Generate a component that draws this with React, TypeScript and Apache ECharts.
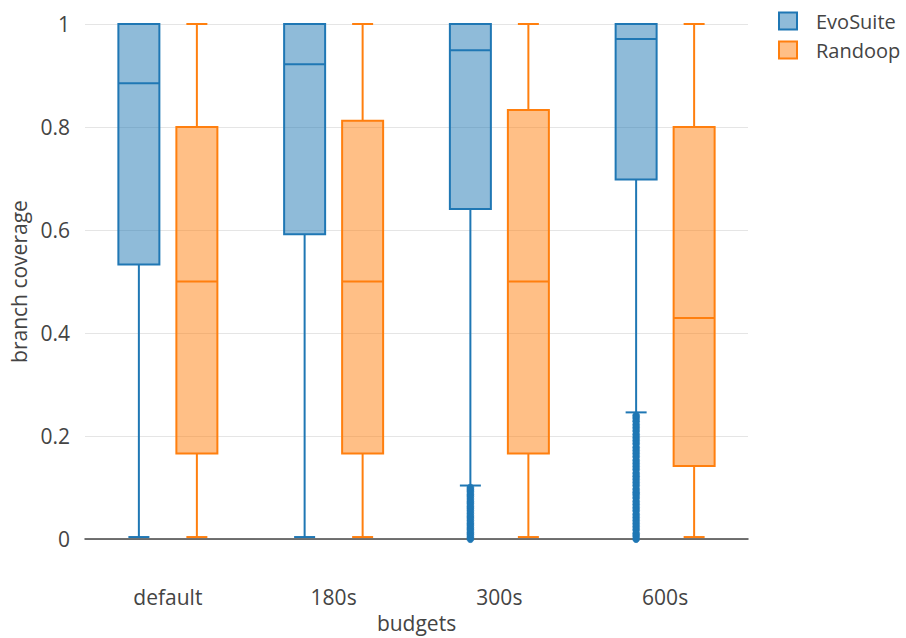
import React, { useEffect, useRef } from "react";
import * as echarts from "echarts";

const categories = ["default", "180s", "300s", "600s"];
// [min, q1, median, q3, max]
const evoSuiteBoxes = [
  [0.004, 0.533, 0.885, 1, 1],
  [0.004, 0.592, 0.922, 1, 1],
  [0.104, 0.641, 0.949, 1, 1],
  [0.246, 0.698, 0.971, 1, 1],
];
const randoopBoxes = [
  [0.004, 0.166, 0.5, 0.8, 1],
  [0.004, 0.166, 0.5, 0.812, 1],
  [0.004, 0.166, 0.5, 0.833, 1],
  [0.004, 0.142, 0.429, 0.8, 1],
];
const evoSuiteOutliers300 = [
  0, 0.004, 0.009, 0.013, 0.018, 0.022, 0.027, 0.031, 0.036, 0.041, 0.045, 0.05,
  0.055, 0.06, 0.064, 0.069, 0.073, 0.078, 0.083, 0.087, 0.092, 0.096, 0.1,
];
const evoSuiteOutliers600 = [
  0, 0.006, 0.011, 0.018, 0.024, 0.03, 0.036, 0.042, 0.048, 0.055, 0.061, 0.067,
  0.073, 0.08, 0.086, 0.091, 0.097, 0.104, 0.11, 0.116, 0.122, 0.128, 0.135,
  0.141, 0.147, 0.153, 0.16, 0.166, 0.172, 0.178, 0.185, 0.191, 0.197, 0.203,
  0.21, 0.216, 0.222, 0.229, 0.235, 0.24,
];

const BLUE = "#1f77b4";
const BLUE_FILL = "rgba(31,119,180,0.5)";
const ORANGE = "#ff7f0e";
const ORANGE_FILL = "rgba(255,127,14,0.5)";
const FONT = "'Open Sans', 'Noto Sans', sans-serif";
const TEXT = "#444";
const FS = 21;

function boxRenderer(offset: number, stroke: string, fill: string) {
  const half = 20.5;
  const cap = 10.5;
  return (params: any, api: any) => {
    const cat = api.value(0);
    const c = (v: number) => api.coord([cat, v]);
    const x = c(api.value(1))[0] + offset;
    const yMin = c(api.value(1))[1];
    const yQ1 = c(api.value(2))[1];
    const yMed = c(api.value(3))[1];
    const yQ3 = c(api.value(4))[1];
    const yMax = c(api.value(5))[1];
    const ls = { stroke, lineWidth: 2 };
    return {
      type: "group",
      children: [
        { type: "line", shape: { x1: x, y1: yMin, x2: x, y2: yQ1 }, style: ls },
        { type: "line", shape: { x1: x, y1: yQ3, x2: x, y2: yMax }, style: ls },
        { type: "line", shape: { x1: x - cap, y1: yMin, x2: x + cap, y2: yMin }, style: ls },
        { type: "line", shape: { x1: x - cap, y1: yMax, x2: x + cap, y2: yMax }, style: ls },
        {
          type: "rect",
          shape: { x: x - half, y: yQ3, width: half * 2, height: yQ1 - yQ3 },
          style: { fill, stroke, lineWidth: 2 },
        },
        { type: "line", shape: { x1: x - half, y1: yMed, x2: x + half, y2: yMed }, style: ls },
      ],
    };
  };
}

function pointRenderer(offset: number, color: string) {
  return (params: any, api: any) => {
    const p = api.coord([api.value(0), api.value(1)]);
    return {
      type: "circle",
      shape: { cx: p[0] + offset, cy: p[1], r: 3.5 },
      style: { fill: color, stroke: color, lineWidth: 0.5 },
    };
  };
}

export default function App() {
  const ref = useRef<HTMLDivElement>(null);
  useEffect(() => {
    if (!ref.current) return;
    const chart = echarts.init(ref.current, null, { renderer: "svg" });
    const evoData = evoSuiteBoxes.map((b, i) => [i, ...b]);
    const ranData = randoopBoxes.map((b, i) => [i, ...b]);
    const outData = [
      ...evoSuiteOutliers300.map((v) => [2, v]),
      ...evoSuiteOutliers600.map((v) => [3, v]),
    ];
    chart.setOption({
      animation: false,
      backgroundColor: "#fff",
      textStyle: { fontFamily: FONT, color: TEXT },
      grid: { left: 85, right: 158, top: 24, bottom: 94 },
      legend: {
        orient: "vertical",
        left: 778,
        top: 11,
        padding: 0,
        itemWidth: 18,
        itemHeight: 17,
        itemGap: 9,
        icon: "rect",
        textStyle: { fontFamily: FONT, fontSize: 20, color: TEXT, padding: [0, 0, 0, 14], lineHeight: 20 },
        data: [
          { name: "EvoSuite", itemStyle: { color: BLUE_FILL, borderColor: BLUE, borderWidth: 2 } },
          { name: "Randoop", itemStyle: { color: ORANGE_FILL, borderColor: ORANGE, borderWidth: 2 } },
        ],
      },
      xAxis: {
        type: "category",
        data: categories,
        name: "budgets",
        nameLocation: "middle",
        nameGap: 68,
        nameTextStyle: { fontFamily: FONT, fontSize: FS, color: TEXT },
        axisLine: { show: true, lineStyle: { color: "#444", width: 1.5 } },
        axisTick: { show: false },
        axisLabel: { margin: 47, fontFamily: FONT, fontSize: FS, color: TEXT },
        splitLine: { show: false },
      },
      yAxis: {
        type: "value",
        min: 0,
        max: 1,
        interval: 0.2,
        name: "branch coverage",
        nameLocation: "middle",
        nameGap: 56,
        nameTextStyle: { fontFamily: FONT, fontSize: FS, color: TEXT },
        axisLine: { show: false },
        axisTick: { show: false },
        axisLabel: { margin: 15, fontFamily: FONT, fontSize: FS, color: TEXT },
        splitLine: { show: true, lineStyle: { color: "#e5e5e5", width: 1 } },
      },
      series: [
        {
          name: "EvoSuite",
          type: "custom",
          renderItem: boxRenderer(-29, BLUE, BLUE_FILL),
          encode: { x: 0, y: [1, 2, 3, 4, 5] },
          itemStyle: { color: BLUE_FILL, borderColor: BLUE },
          data: evoData,
          z: 3,
        },
        {
          name: "EvoSuite",
          type: "custom",
          renderItem: pointRenderer(-29, BLUE),
          encode: { x: 0, y: 1 },
          itemStyle: { color: BLUE },
          data: outData,
          z: 4,
        },
        {
          name: "Randoop",
          type: "custom",
          renderItem: boxRenderer(29, ORANGE, ORANGE_FILL),
          encode: { x: 0, y: [1, 2, 3, 4, 5] },
          itemStyle: { color: ORANGE_FILL, borderColor: ORANGE },
          data: ranData,
          z: 3,
        },
      ],
    });
    return () => chart.dispose();
  }, []);
  return (
    <div
      ref={ref}
      style={{ position: "fixed", left: 0, top: 0, width: 906, height: 638 }}
    />
  );
}
